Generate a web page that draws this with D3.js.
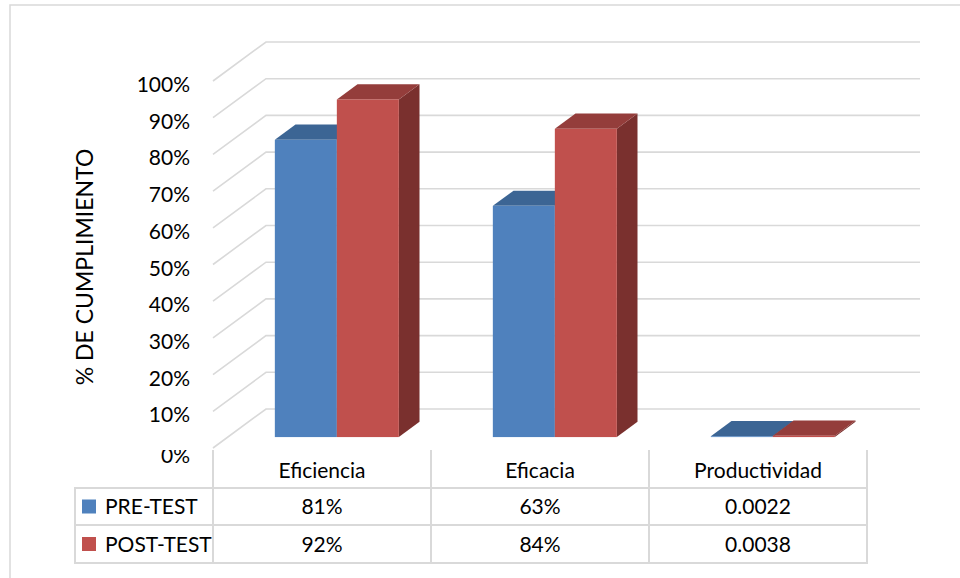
<!DOCTYPE html>
<html><head><meta charset="utf-8">
<script src="https://cdn.jsdelivr.net/npm/d3@7"></script>
<style>body{margin:0;background:#fff}svg{display:block}</style>
</head><body>
<svg id="c" width="960" height="578"></svg>
<script>
const categories = ["Eficiencia", "Eficacia", "Productividad"];
const seriesNames = ["PRE-TEST", "POST-TEST"];
const preTest = [0.81, 0.63, 0.0022];
const postTest = [0.92, 0.84, 0.0038];
const preTestLabels = ["81%", "63%", "0.0022"];
const postTestLabels = ["92%", "84%", "0.0038"];
const yTicks = [0, 0.1, 0.2, 0.3, 0.4, 0.5, 0.6, 0.7, 0.8, 0.9, 1.0];
const yTitle = "% DE CUMPLIMIENTO";

const colors = [
  {front: "#4F81BD", top: "#3C6594", side: "#2F5077"},
  {front: "#C0504D", top: "#943D3B", side: "#7A302E"}
];
const FONT = "Lato, 'Open Sans', sans-serif";
const svg = d3.select("#c");

// outer border
svg.append("rect").attr("x", 10).attr("y", 5).attr("width", 1000).attr("height", 700)
  .attr("fill", "none").attr("stroke", "#D9D9D9").attr("stroke-width", 1.5);

// 3D projection
const DX = 53, DY = -39;
const x = d3.scaleBand().domain(categories).range([213, 867]);
const y = d3.scaleLinear().domain([0, 1]).range([448, 81]);
const P = (px, v, z) => [px + z * DX, y(v) + z * DY];
const backRight = 920;

// gridlines (side wall + back wall)
const grid = svg.append("g");
yTicks.forEach(t => {
  const a = P(213, t, 0), b = P(213, t, 1);
  grid.append("path")
    .attr("d", `M${a[0]},${a[1]}L${b[0]},${b[1]}L${backRight},${b[1]}`)
    .attr("fill", "none").attr("stroke", "#D9D9D9").attr("stroke-width", 1.6);
});

// y tick labels
svg.append("clipPath").attr("id", "lblclip").append("rect")
  .attr("x", 0).attr("y", 450).attr("width", 210).attr("height", 30);
yTicks.forEach(t => {
  const a = P(213, t, 0);
  svg.append("text")
    .attr("x", 190).attr("y", a[1] + (t === 0 ? 15 : 11))
    .attr("text-anchor", "end")
    .attr("font-family", FONT).attr("font-size", 21).attr("fill", "#000")
    .attr("clip-path", t === 0 ? "url(#lblclip)" : null)
    .text(d3.format(".0%")(t));
});

// y title
svg.append("text")
  .attr("transform", "translate(93,267) rotate(-90)")
  .attr("text-anchor", "middle")
  .attr("font-family", FONT).attr("font-size", 23).attr("fill", "#000")
  .text(yTitle);

// bars
const gap = 47, barW = 62, z0 = 0.28, z1 = 0.67;
const poly = pts => "M" + pts.map(p => p.join(",")).join("L") + "Z";
const bars = svg.append("g");
categories.forEach((c, i) => {
  [preTest[i], postTest[i]].forEach((v, s) => {
    const x0 = x(c) + gap + s * barW, x1 = x0 + barW;
    const col = colors[s];
    // side
    bars.append("path").attr("d", poly([P(x1, 0, z0), P(x1, 0, z1), P(x1, v, z1), P(x1, v, z0)]))
      .attr("fill", col.side);
    // top
    bars.append("path").attr("d", poly([P(x0, v, z0), P(x1, v, z0), P(x1, v, z1), P(x0, v, z1)]))
      .attr("fill", col.top);
    // front
    const f0 = P(x0, v, z0), f1 = P(x1, 0, z0);
    bars.append("rect").attr("x", f0[0]).attr("y", f0[1])
      .attr("width", f1[0] - f0[0]).attr("height", Math.max(0, f1[1] - f0[1]))
      .attr("fill", col.front);
  });
});

// data table
const tbl = svg.append("g");
const lineC = "#D9D9D9";
const rowY = [448, 488, 525, 563];
const legendLeft = 75;
const colXs = [x.range()[0]].concat(categories.map(c => x(c) + x.bandwidth()));
colXs.forEach(cx => {
  tbl.append("line").attr("x1", cx).attr("x2", cx).attr("y1", 450).attr("y2", rowY[3])
    .attr("stroke", lineC).attr("stroke-width", 2);
});
tbl.append("line").attr("x1", legendLeft).attr("x2", legendLeft).attr("y1", rowY[1]).attr("y2", rowY[3])
  .attr("stroke", lineC).attr("stroke-width", 2);
[rowY[1], rowY[2], rowY[3]].forEach(ry => {
  tbl.append("line").attr("x1", legendLeft - 1).attr("x2", colXs[3] + 1).attr("y1", ry).attr("y2", ry)
    .attr("stroke", lineC).attr("stroke-width", 2);
});
categories.forEach(c => {
  tbl.append("text").attr("x", x(c) + x.bandwidth() / 2).attr("y", 478)
    .attr("text-anchor", "middle").attr("font-family", FONT).attr("font-size", 21).text(c);
});
const rowsLabels = [preTestLabels, postTestLabels];
rowsLabels.forEach((labels, r) => {
  const cy = (rowY[r + 1] + rowY[r + 2]) / 2;
  tbl.append("rect").attr("x", 82).attr("y", cy - 7).attr("width", 14).attr("height", 14)
    .attr("fill", colors[r].front);
  tbl.append("text").attr("x", 105).attr("y", cy + 7.5)
    .attr("font-family", FONT).attr("font-size", 21).text(seriesNames[r]);
  labels.forEach((l, i) => {
    tbl.append("text").attr("x", x(categories[i]) + x.bandwidth() / 2).attr("y", cy + 7.5)
      .attr("text-anchor", "middle").attr("font-family", FONT).attr("font-size", 21).text(l);
  });
});
</script>
</body></html>
